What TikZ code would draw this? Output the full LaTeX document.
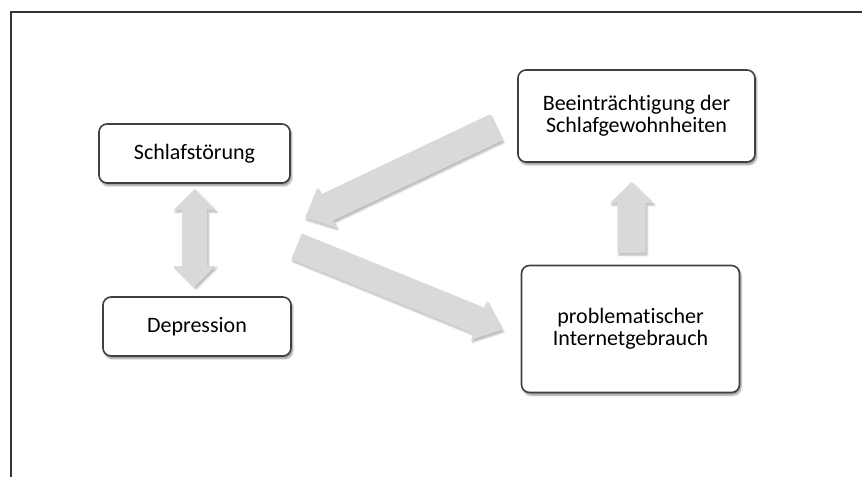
\documentclass[tikz,border=0pt]{standalone}
\usepackage{fontspec}
\setmainfont{Carlito}[Ligatures=NoCommon]
\usetikzlibrary{calc,shadows.blur}

% block arrow dimensions (half shaft width, half head width, head length)
\newlength{\shw}\newlength{\hhw}\newlength{\hdl}

% single block arrow from #1 (tail centre) to #2 (tip)
\newcommand{\blockarrow}[2]{%
  \coordinate (hb) at ($(#2)!\hdl!(#1)$);
  \path[arrowfill]
    ($(#1)!\shw!90:(#2)$) -- ($(hb)!\shw!-90:(#1)$) -- ($(hb)!\hhw!-90:(#1)$)
    -- (#2) -- ($(hb)!\hhw!90:(#1)$) -- ($(hb)!\shw!90:(#1)$)
    -- ($(#1)!\shw!-90:(#2)$) -- cycle;}

% double block arrow between tips #1 and #2
\newcommand{\doubleblockarrow}[2]{%
  \coordinate (ha) at ($(#1)!\hdl!(#2)$);
  \coordinate (hb) at ($(#2)!\hdl!(#1)$);
  \path[arrowfill]
    (#1) -- ($(ha)!\hhw!90:(#2)$) -- ($(ha)!\shw!90:(#2)$)
    -- ($(hb)!\shw!-90:(#1)$) -- ($(hb)!\hhw!-90:(#1)$) -- (#2)
    -- ($(hb)!\hhw!90:(#1)$) -- ($(hb)!\shw!90:(#1)$)
    -- ($(ha)!\shw!-90:(#2)$) -- ($(ha)!\hhw!-90:(#2)$) -- cycle;}

\definecolor{boxline}{HTML}{404040}
\definecolor{arrowgray}{HTML}{D9D9D9}
\definecolor{framegray}{HTML}{333333}

\tikzset{
  stagebox/.style={draw=boxline, line width=1.6pt, rounded corners=8pt,
    fill=white, align=center, inner sep=4pt,
    font=\fontsize{22}{22}\selectfont,
    blur shadow={shadow xshift=1.5pt, shadow yshift=-2.5pt,
      shadow blur steps=6, shadow blur extra rounding=1.5pt, shadow opacity=45}},
  arrowfill/.style={fill=arrowgray,
    blur shadow={shadow xshift=1.5pt, shadow yshift=-2pt,
      shadow blur steps=6, shadow opacity=30}},
  frameline/.style={draw=framegray, line width=1.2pt}
}

\begin{document}
\begin{tikzpicture}[x=1pt, y=-1pt]
  \useasboundingbox (0,0) rectangle (862,477);

  % outer frame: top and left edges
  \coordinate (fr) at (862,12);
  \coordinate (fc) at (11,12);
  \coordinate (fb) at (11,477);
  \draw[frameline] (fr) -- (fc) -- (fb);

  % arrows (drawn first, under the boxes)
  \setlength{\shw}{12.5pt}\setlength{\hhw}{21pt}\setlength{\hdl}{21pt}
  \coordinate (dtop) at (194.5,189);
  \coordinate (dbot) at (194.5,287);
  \doubleblockarrow{dtop}{dbot}

  \setlength{\shw}{14pt}\setlength{\hhw}{21.5pt}\setlength{\hdl}{21pt}
  \coordinate (utail) at (631.5,253);
  \coordinate (utip) at (631.5,182);
  \blockarrow{utail}{utip}

  \setlength{\shw}{14.5pt}\setlength{\hhw}{22pt}\setlength{\hdl}{24pt}
  \coordinate (atail) at (496,127.5);
  \coordinate (atip) at (305,218);
  \blockarrow{atail}{atip}

  \setlength{\shw}{14pt}\setlength{\hhw}{21pt}\setlength{\hdl}{25pt}
  \coordinate (btail) at (296.5,246.5);
  \coordinate (btip) at (502,330);
  \blockarrow{btail}{btip}

  % boxes
  \node[stagebox, minimum width=191pt, minimum height=59pt]
    (schlaf) at (194.5,153.5) {Schlafstörung};
  \node[stagebox, minimum width=188pt, minimum height=59pt]
    (depr) at (197,326.5) {Depression};
  \node[stagebox, minimum width=237pt, minimum height=92pt]
    (beein) at (636.5,116) {Beeinträchtigung der\\Schlafgewohnheiten};
  \node[stagebox, minimum width=218pt, minimum height=127pt]
    (internet) at (630.5,329) {problematischer\\Internetgebrauch};
\end{tikzpicture}
\end{document}
